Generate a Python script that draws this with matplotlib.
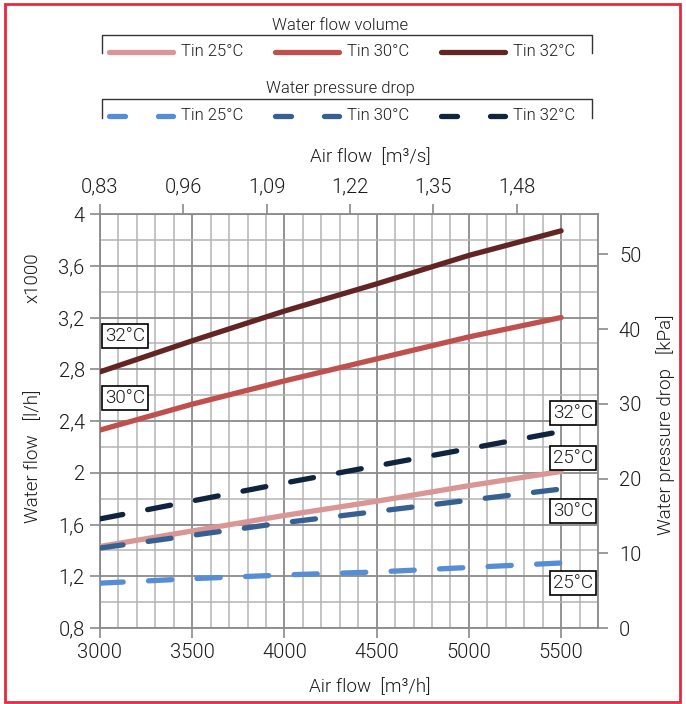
import numpy as np
import matplotlib
matplotlib.use("Agg")
import matplotlib.pyplot as plt
from matplotlib.lines import Line2D
from matplotlib.patches import Rectangle
from matplotlib.ticker import MultipleLocator

plt.rcParams["font.family"] = ["Roboto", "DejaVu Sans"]
plt.rcParams["font.weight"] = 300
plt.rcParams["text.color"] = "#1a1a1a"
plt.rcParams["xtick.labelcolor"] = "#1a1a1a"
plt.rcParams["ytick.labelcolor"] = "#1a1a1a"

# data
airflow = [3000, 3500, 4000, 4500, 5000, 5500]  # m3/h
flow_25 = [1.43, 1.55, 1.67, 1.78, 1.90, 2.01]  # l/h x1000
flow_30 = [2.33, 2.53, 2.71, 2.88, 3.05, 3.20]
flow_32 = [2.78, 3.02, 3.25, 3.46, 3.68, 3.87]
dp_25 = [6.0, 6.6, 7.1, 7.5, 8.1, 8.7]  # kPa
dp_30 = [10.7, 12.4, 14.1, 15.6, 17.1, 18.6]
dp_32 = [14.6, 17.0, 19.4, 21.7, 24.0, 26.3]
top_labels = ["0,83", "0,96", "1,09", "1,22", "1,35", "1,48"]

red_cols = ["#d99694", "#c0504d", "#632523"]
blue_cols = ["#558ed5", "#366092", "#0f243e"]

W, H = 686, 704
fig = plt.figure(figsize=(W / 100, H / 100), dpi=100)


def fx(px):
    return px / W


def fy(py):
    return 1 - py / H


ax = fig.add_axes([fx(100), fy(628), fx(598) - fx(100), fy(214) - fy(628)])
ax.set_xlim(3000, 5700)
ax.set_ylim(0.8, 4.0)

ax.xaxis.set_minor_locator(MultipleLocator(100))
ax.set_xticks(airflow)
ax.set_xticklabels([str(v) for v in airflow], fontsize=14.5)
yt = np.arange(0.8, 4.01, 0.4)
ax.set_yticks(yt)
ax.set_yticklabels([("%g" % round(v, 1)).replace(".", ",") for v in yt], fontsize=14.5)
ax.yaxis.set_minor_locator(MultipleLocator(0.2))
ax.grid(which="major", color="#8a8a8a", lw=1.3, zorder=0)
ax.grid(which="minor", color="#b4b4b4", lw=1.1, zorder=0)
ax.tick_params(which="major", direction="out", length=7, color="#8a8a8a", width=1.2, pad=4)
ax.tick_params(which="minor", length=0)
for s in ax.spines.values():
    s.set_color("#8a8a8a")
    s.set_linewidth(1.3)

for vals, c in zip([flow_25, flow_30, flow_32], red_cols):
    ax.plot(airflow, vals, color=c, lw=3.8, solid_capstyle="round", zorder=3)

ax2 = ax.twinx()
ax2.set_ylim(0, 55.4)
ax2.set_yticks(range(0, 51, 10))
ax2.set_yticklabels([str(v) for v in range(0, 51, 10)], fontsize=14.5)
ax2.tick_params(direction="out", length=7, color="#8a8a8a", width=1.2, pad=8)
for s in ax2.spines.values():
    s.set_visible(False)
for vals, c in zip([dp_25, dp_30, dp_32], blue_cols):
    ax2.plot(airflow, vals, color=c, lw=3.8, dashes=(4.4, 4.8),
             dash_capstyle="round", zorder=3)

ax3 = ax.twiny()
ax3.set_xlim(ax.get_xlim())
ax3.set_xticks(3000 + np.arange(len(top_labels)) * 451.7)
ax3.set_xticklabels(top_labels, fontsize=14.5)
ax3.tick_params(direction="out", length=7, color="#8a8a8a", width=1.2, pad=6)
for s in ax3.spines.values():
    s.set_visible(False)

# boxed temperature labels
box = dict(boxstyle="square,pad=0.15", fc="white", ec="black", lw=1.2)
for txt, xf, yp in [("32°C", 0.05, 336), ("30°C", 0.05, 398),
                    ("32°C", 0.95, 413), ("25°C", 0.95, 458),
                    ("30°C", 0.95, 511), ("25°C", 0.95, 583)]:
    ax.text(xf, (628 - yp) / 414, txt, transform=ax.transAxes, ha="center",
            va="center", fontsize=13.5, bbox=box, zorder=5)

# axis titles
fig.text(fx(370), fy(157), "Air flow  [m\u00b3/s]", ha="center", va="center", fontsize=13.5)
fig.text(fx(370), fy(687), "Air flow  [m\u00b3/h]", ha="center", va="center", fontsize=13.5)
fig.text(fx(33), fy(456), "Water flow   [l/h]", ha="center", va="center",
         rotation=90, fontsize=13.5)
fig.text(fx(33), fy(278), "x1000", ha="center", va="center", rotation=90, fontsize=13.5)
fig.text(fx(666), fy(425), "Water pressure drop   [kPa]", ha="center", va="center",
         rotation=90, fontsize=13.5)

# legend
def bracket(ytop, ybot):
    fig.add_artist(Line2D([fx(102), fx(102), fx(592), fx(592)],
                          [fy(ybot), fy(ytop), fy(ytop), fy(ybot)],
                          color="#333333", lw=1.0))


fig.text(fx(340), fy(25), "Water flow volume", ha="center", va="center", fontsize=12)
bracket(35, 53)
fig.text(fx(340), fy(88), "Water pressure drop", ha="center", va="center", fontsize=12)
bracket(99, 118)

starts = [109, 275, 441]
for i, x0 in enumerate(starts):
    fig.add_artist(Line2D([fx(x0), fx(x0 + 64)], [fy(52), fy(52)], color=red_cols[i],
                          lw=3.8, solid_capstyle="round"))
    fig.text(fx(x0 + 72), fy(52), "Tin %s°C" % ["25", "30", "32"][i],
             ha="left", va="center", fontsize=12)
    for a, b in [(x0, x0 + 16), (x0 + 49, x0 + 64)]:
        fig.add_artist(Line2D([fx(a), fx(b)], [fy(116), fy(116)], color=blue_cols[i],
                              lw=3.8, solid_capstyle="round"))
    fig.text(fx(x0 + 72), fy(116), "Tin %s°C" % ["25", "30", "32"][i],
             ha="left", va="center", fontsize=12)

# red frame
fig.add_artist(Rectangle((fx(5), fy(702)), fx(680) - fx(5), fy(4) - fy(702),
                         fill=False, ec="#e8283f", lw=2.0, transform=fig.transFigure))

fig.savefig("out.png", dpi=100)
